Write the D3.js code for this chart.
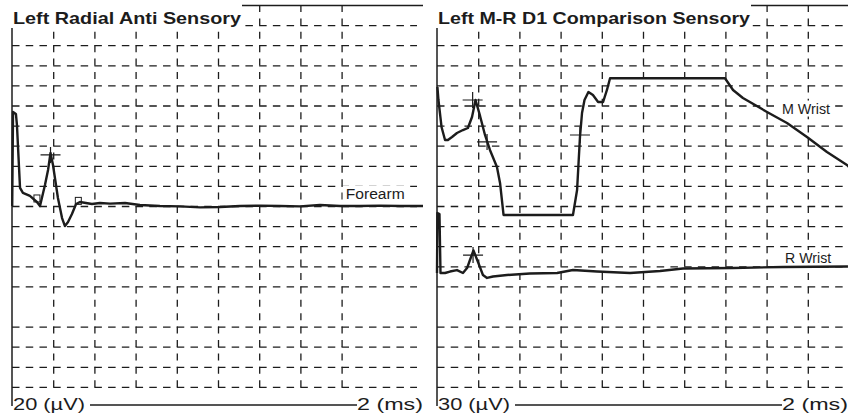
<!DOCTYPE html>
<html>
<head>
<meta charset="utf-8">
<script src="https://cdn.jsdelivr.net/npm/d3@7"></script>
<style>
  body { margin: 0; background: #fff; }
  svg { display: block; font-family: "Liberation Sans", Arial, sans-serif; }
</style>
</head>
<body>
<div id="chart"></div>
<script>
// Trace data: time in ms, amplitude in µV (0 = middle of the panel)
var forearmT = [0.01, 0.05, 0.19, 0.24, 0.39, 0.53, 0.87, 1.21, 1.36, 1.60, 1.75, 1.87, 1.99, 2.23, 2.43, 2.57, 2.72, 2.91, 3.11, 3.30, 3.59, 3.88, 4.27, 4.76, 5.49, 6.21, 7.18, 8.16, 9.13, 10.10, 11.07, 12.04, 13.01, 13.98, 14.95, 15.92, 16.89, 17.86, 18.83, 19.95];
var forearmV = [0, 46.8, 45.8, 40.3, 9.0, 6.5, 5.0, 2.0, 0, 10.4, 17.9, 26.4, 20.4, 4.0, -6.0, -10.0, -8.0, -4.0, 1.0, 2.0, 1.5, 1.0, 1.5, 1.2, 1.5, 0.5, 0, -0.2, -0.7, -0.5, 0, 0.2, 0, -0.2, 0.5, 0, 0, 0.2, 0, 0];

var mWristT = [0.02, 0.07, 0.22, 0.39, 0.53, 0.73, 0.97, 1.26, 1.50, 1.70, 1.87, 2.09, 2.33, 2.57, 2.91, 3.06, 3.23, 6.60, 6.80, 6.94, 7.04, 7.16, 7.35, 7.57, 7.82, 8.06, 8.25, 8.40, 13.98, 14.37, 14.85, 16.02, 16.99, 17.96, 18.93, 19.90, 20.0];
var mWristV = [88.8, 79.1, 59.0, 49.3, 49.3, 51.5, 54.5, 56.7, 58.2, 66.4, 79.1, 67.2, 53.0, 41.8, 29.1, 17.2, -6.7, -6.7, 11.9, 51.5, 69.4, 79.1, 85.1, 82.8, 77.6, 77.6, 86.6, 95.3, 95.3, 86.6, 80.6, 70.2, 61.9, 51.5, 40.3, 30.6, 29.1];

var rWristT = [0, 0.02, 0.12, 0.17, 0.39, 0.63, 0.97, 1.26, 1.46, 1.60, 1.77, 1.99, 2.23, 2.43, 2.72, 3.40, 4.51, 5.83, 6.60, 7.77, 9.37, 10.83, 11.94, 14.37, 16.80, 19.95];
var rWristV = [-50.0, -5.2, -6.0, -50.0, -50.0, -48.9, -47.8, -50.0, -46.3, -40.3, -33.2, -41.8, -51.5, -53.7, -52.6, -51.5, -50.4, -50.0, -47.8, -48.9, -50.0, -48.5, -46.6, -46.3, -45.5, -45.2];

// Cursor marks (ms, µV)
var forearmMarkT = [1.87];
var forearmMarkV = [25.4];
var forearmBoxT = [1.21, 3.22];
var forearmBoxV = [3.0, 1.8];
var mWristMarkT = [1.73, 2.43, 6.94];
var mWristMarkV = [79.1, 47.8, 53.0];
var rWristMarkT = [1.75];
var rWristMarkV = [-36.6];

var panelTitles = ["Left Radial Anti Sensory", "Left M-R D1 Comparison Sensory"];
var ampLabels = ["20 (µV)", "30 (µV)"];
var timeLabels = ["2 (ms)", "2 (ms)"];
var uvPerDiv = [20, 30];
var timeTicks = [[2, 4, 6, 8, 10, 12, 14, 16], [2, 4, 6, 8, 10, 12, 14, 16, 18]];

function zip(ts, vs) { return ts.map(function(t, i) { return {t: t, v: vs[i]}; }); }

var panels = [
  {x0: 12, rowLen: 405, titleLen: 228, uv: uvPerDiv[0], ticks: timeTicks[0],
   title: panelTitles[0], amp: ampLabels[0], time: timeLabels[0],
   traces: [zip(forearmT, forearmV)],
   crosses: [zip(forearmMarkT, forearmMarkV)], boxes: zip(forearmBoxT, forearmBoxV),
   labels: [{text: "Forearm", t: 16.2, v: 3.6, len: 59}]},
  {x0: 437, rowLen: 411, titleLen: 312, uv: uvPerDiv[1], ticks: timeTicks[1],
   title: panelTitles[1], amp: ampLabels[1], time: timeLabels[1],
   traces: [zip(mWristT, mWristV), zip(rWristT, rWristV)],
   crosses: [zip(mWristMarkT, mWristMarkV), zip(rWristMarkT, rWristMarkV)], boxes: [],
   labels: [{text: "M Wrist", t: 16.75, v: 69, len: 48}, {text: "R Wrist", t: 16.9, v: -42.5, len: 46}]}
];

var svg = d3.select("#chart").append("svg")
  .attr("width", 848)
  .attr("height", 417);

svg.append("rect").attr("width", 848).attr("height", 417).attr("fill", "#fff");

var gridTop = 5, gridBottom = 407;
var ink = "#1c1c1c";

panels.forEach(function(p) {
  var x = d3.scaleLinear().domain([0, 20]).range([p.x0, p.x0 + 412]);
  var y = d3.scaleLinear().domain([-5 * p.uv, 5 * p.uv]).range([gridBottom, gridTop]);

  // horizontal grid rows every half division (one row missing in the print)
  var rows = d3.range(1, 20).filter(function(k) { return k !== 15; })
    .map(function(k) { return 5 * p.uv - k * p.uv / 2; });

  var g = svg.append("g");

  g.append("g")
    .attr("transform", "translate(" + p.x0 + ",0)")
    .call(d3.axisLeft(y).tickValues(rows).tickSize(-p.rowLen).tickFormat(""))
    .call(function(a) {
      a.select(".domain").remove();
      a.selectAll("line").attr("stroke", ink).attr("stroke-width", 1.3)
        .attr("stroke-dasharray", "7.5,6.23");
    });

  g.append("g")
    .attr("transform", "translate(0," + gridTop + ")")
    .call(d3.axisTop(x).tickValues(p.ticks).tickSize(-396).tickFormat(""))
    .call(function(a) {
      a.select(".domain").remove();
      a.selectAll("line").attr("stroke", ink).attr("stroke-width", 1.3)
        .attr("stroke-dasharray", "7,6.4");
    });

  // white band behind the title
  g.append("rect")
    .attr("x", p.x0 - 12).attr("y", 0)
    .attr("width", p.titleLen + 14).attr("height", 29)
    .attr("fill", "#fff");

  g.append("text")
    .attr("x", p.x0 + 1).attr("y", 24)
    .attr("font-size", 16.5).attr("font-weight", "bold").attr("fill", ink)
    .attr("textLength", p.titleLen).attr("lengthAdjust", "spacingAndGlyphs")
    .text(p.title);

  // top rule to the right of the title
  g.append("line")
    .attr("x1", p.x0 + p.titleLen + 2).attr("x2", p.x0 + 411)
    .attr("y1", gridTop + 0.5).attr("y2", gridTop + 0.5)
    .attr("stroke", ink).attr("stroke-width", 1.4);

  // left border
  g.append("line")
    .attr("x1", p.x0).attr("x2", p.x0).attr("y1", 28).attr("y2", 406)
    .attr("stroke", ink).attr("stroke-width", 1.5);

  // calibration bar at the bottom
  g.append("rect")
    .attr("x", p.x0 + 1).attr("y", 392).attr("width", 411).attr("height", 25)
    .attr("fill", "#fff");
  g.append("text")
    .attr("x", p.x0 + 1).attr("y", 410)
    .attr("font-size", 17).attr("fill", ink)
    .attr("textLength", 72).attr("lengthAdjust", "spacingAndGlyphs")
    .text(p.amp);
  g.append("line")
    .attr("x1", p.x0 + 78).attr("x2", p.x0 + 345)
    .attr("y1", 405).attr("y2", 405)
    .attr("stroke", ink).attr("stroke-width", 1.5);
  g.append("text")
    .attr("x", p.x0 + 345).attr("y", 410)
    .attr("font-size", 17).attr("fill", ink)
    .attr("textLength", 66).attr("lengthAdjust", "spacingAndGlyphs")
    .text(p.time);

  var line = d3.line()
    .x(function(d) { return x(d.t); })
    .y(function(d) { return y(d.v); });

  // trace labels sit on a white patch that hides the grid
  p.labels.forEach(function(l) {
    g.append("rect")
      .attr("x", x(l.t) - 3).attr("y", y(l.v) - 13)
      .attr("width", l.len + 6).attr("height", 16)
      .attr("fill", "#fff");
    g.append("text")
      .attr("x", x(l.t)).attr("y", y(l.v))
      .attr("font-size", 14).attr("fill", ink)
      .attr("textLength", l.len).attr("lengthAdjust", "spacingAndGlyphs")
      .text(l.text);
  });

  p.traces.forEach(function(tr) {
    g.append("path")
      .datum(tr)
      .attr("d", line)
      .attr("fill", "none")
      .attr("stroke", ink)
      .attr("stroke-width", 2.4)
      .attr("stroke-linejoin", "round");
  });

  p.crosses.forEach(function(cs) {
    cs.forEach(function(d) {
      var cx = x(d.t), cy = y(d.v);
      g.append("path")
        .attr("d", "M" + (cx - 10) + "," + cy + "H" + (cx + 10) + "M" + cx + "," + (cy - 8) + "V" + (cy + 8))
        .attr("stroke", ink).attr("stroke-width", 1.2).attr("fill", "none");
    });
  });

  p.boxes.forEach(function(d) {
    g.append("rect")
      .attr("x", x(d.t) - 3).attr("y", y(d.v) - 5)
      .attr("width", 6).attr("height", 7)
      .attr("fill", "none").attr("stroke", ink).attr("stroke-width", 1);
  });
});
</script>
</body>
</html>
